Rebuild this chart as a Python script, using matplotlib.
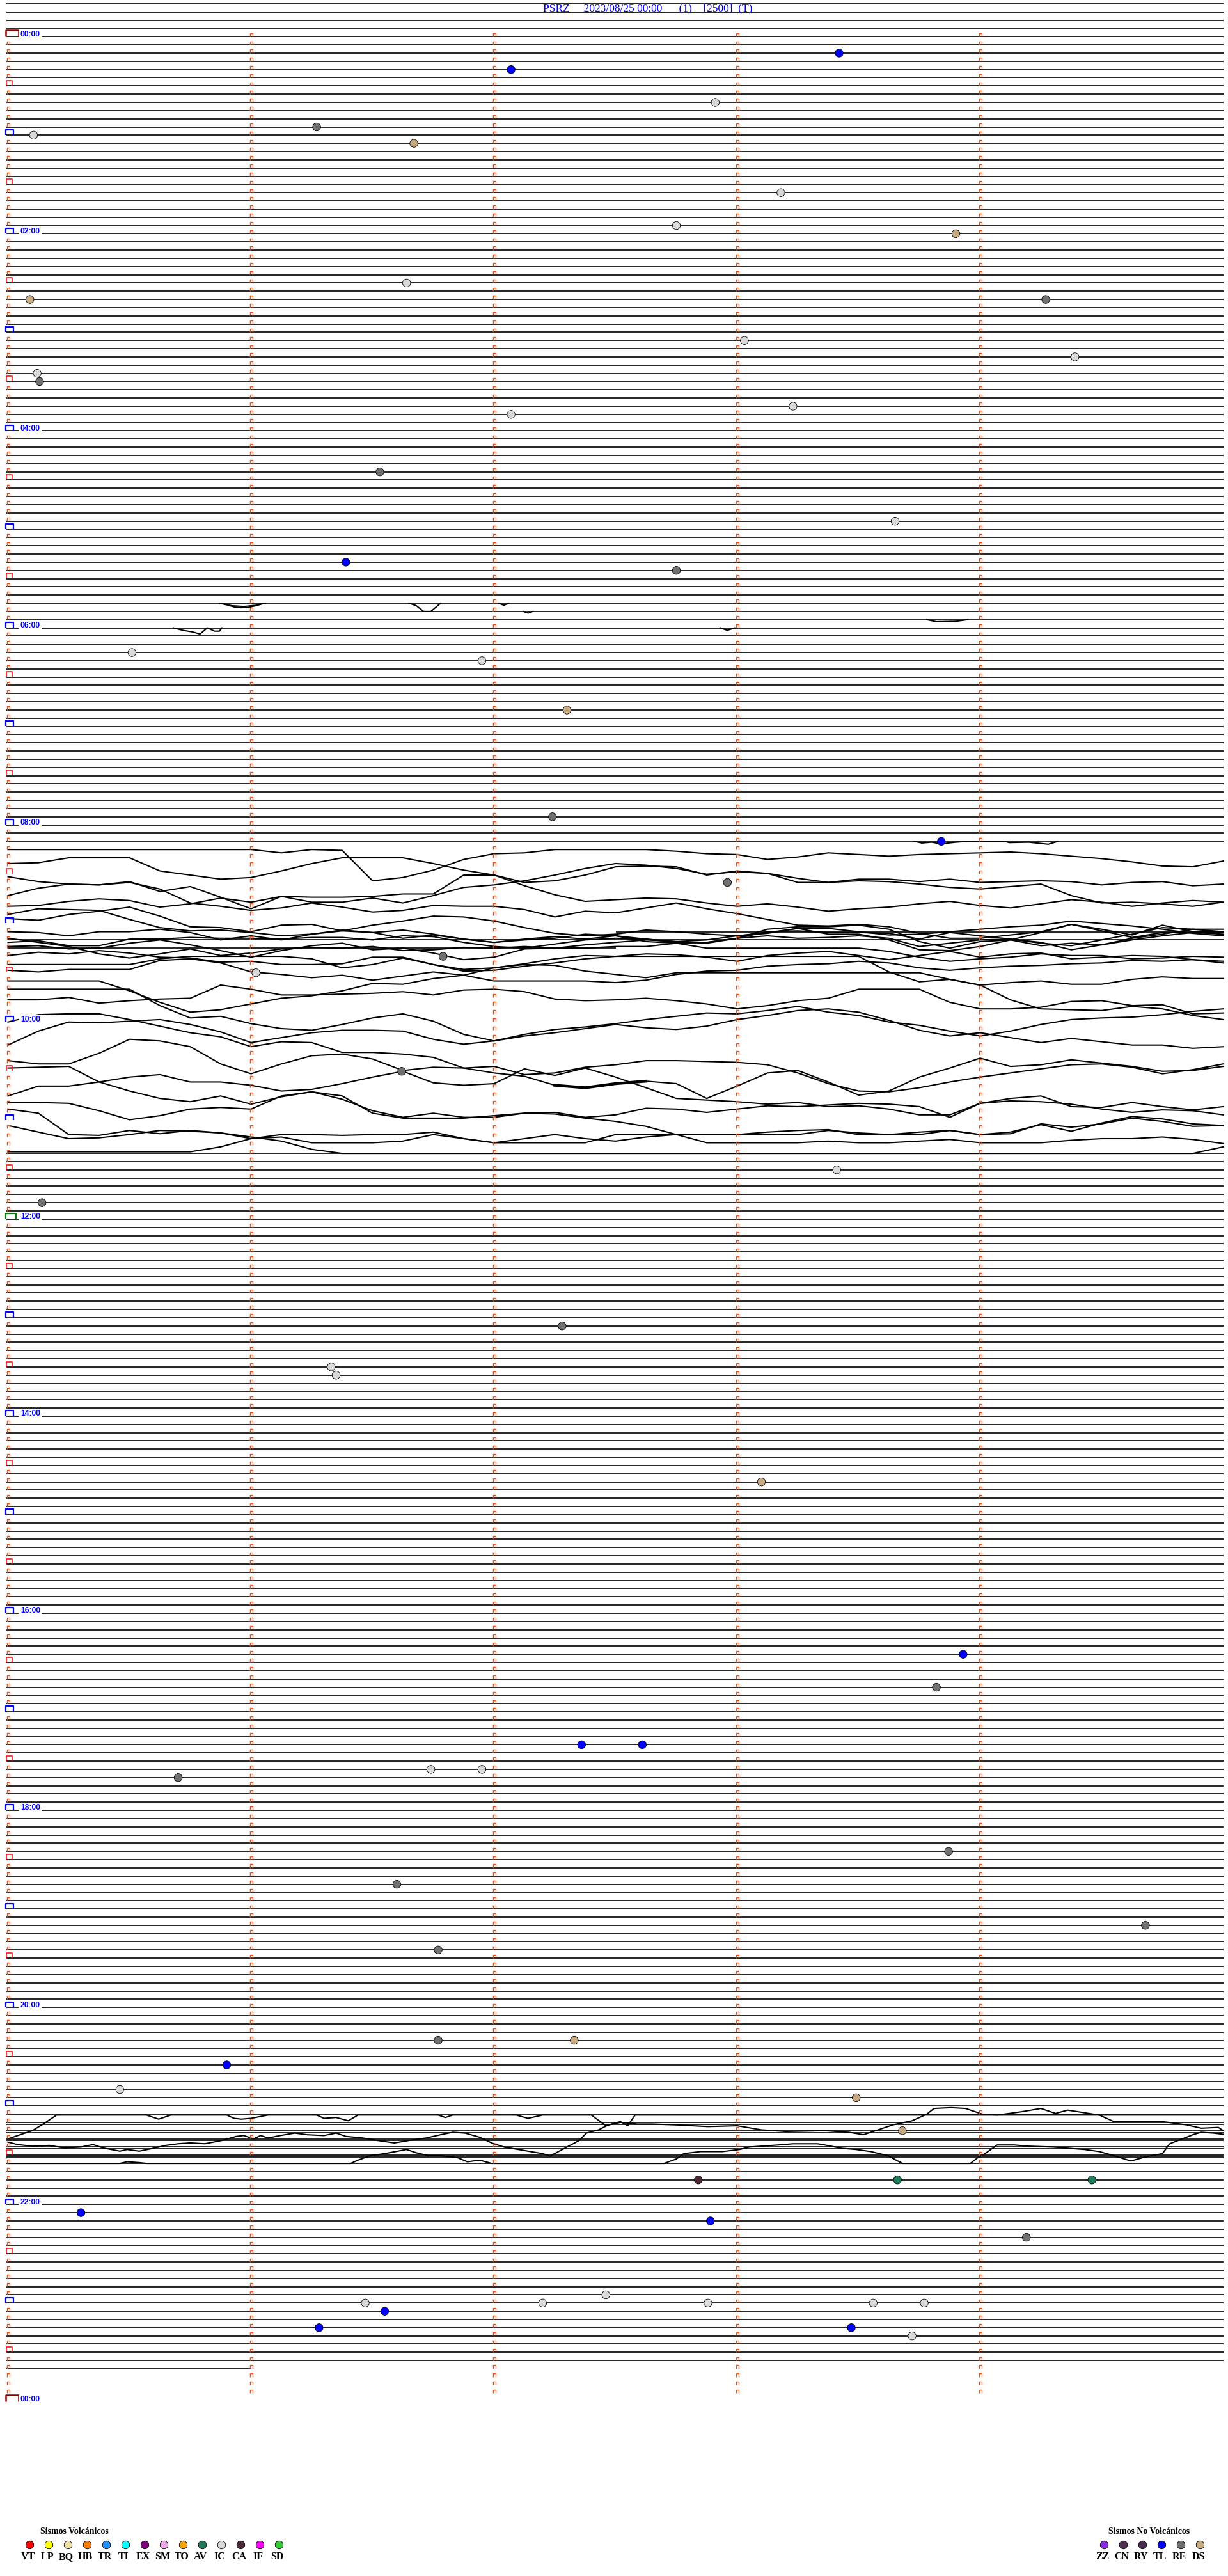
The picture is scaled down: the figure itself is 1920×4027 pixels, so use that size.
import numpy as np
import matplotlib.pyplot as plt
from matplotlib.collections import LineCollection

# ---------------- data ----------------
title = "PSRZ     2023/08/25 00:00      (1)    [2500]  (T)"
n_rows = 288          # 5-minute rows in the day
header_rows = 4       # empty rows drawn above 00:00
last_row = 284        # last row with signal
last_row_end = 1.0    # minutes of signal in the last row
hour_labels = ["00:00", "02:00", "04:00", "06:00", "08:00", "10:00", "12:00",
               "14:00", "16:00", "18:00", "20:00", "22:00", "00:00"]

# events: row (5 min each), minute inside the row, type
event_row = [2, 4, 8, 11, 12, 13, 19, 23, 24, 30, 32, 32, 37, 39, 41, 42, 45, 46, 53, 59,
             64, 65, 75, 76, 82, 95, 98, 103, 112, 114, 126, 138, 142, 157, 162, 163, 176,
             197, 201, 208, 208, 211, 211, 212, 221, 225, 230, 233, 244, 244, 247, 250,
             251, 255, 261, 261, 261, 265, 266, 268, 275, 276, 276, 276, 276, 276, 277,
             279, 279, 280]
event_min = [3.42, 2.07, 2.91, 1.27, 0.105, 1.67, 3.18, 2.75, 3.9, 1.64, 0.09, 4.27, 3.03,
             4.39, 0.12, 0.13, 3.23, 2.07, 1.53, 3.65, 1.39, 2.75, 0.51, 1.95, 2.3, 2.24,
             3.84, 2.96, 1.79, 1.02, 1.62, 3.41, 0.14, 2.28, 1.33, 1.35, 3.1, 3.93, 3.82,
             2.36, 2.61, 1.74, 1.95, 0.70, 3.87, 1.6, 4.68, 1.77, 1.77, 2.33, 0.9, 0.46,
             3.49, 3.68, 2.84, 3.66, 4.46, 0.3, 2.89, 4.19, 2.46, 1.47, 2.2, 2.88, 3.56,
             3.77, 1.55, 1.28, 3.47, 3.72]
event_type = ["TL", "TL", "IC", "RE", "IC", "DS", "IC", "IC", "DS", "IC", "DS", "RE", "IC",
              "IC", "IC", "RE", "IC", "IC", "RE", "IC", "TL", "RE", "IC", "IC", "DS", "RE",
              "TL", "RE", "RE", "IC", "RE", "IC", "RE", "RE", "IC", "IC", "DS", "TL", "RE",
              "TL", "TL", "IC", "IC", "RE", "RE", "RE", "RE", "RE", "RE", "DS", "TL", "IC",
              "DS", "DS", "CA", "AV", "AV", "TL", "TL", "RE", "IC", "IC", "IC", "IC", "IC",
              "IC", "TL", "TL", "TL", "IC"]

volc_codes = ["VT", "LP", "BQ", "HB", "TR", "TI", "EX", "SM", "TO", "AV", "IC", "CA", "IF", "SD"]
volc_colors = ["#ff0000", "#ffff00", "#f0e0a8", "#ff8000", "#2090ff", "#00ffff", "#800080",
               "#f0a8e8", "#ffa500", "#1f7a5c", "#d9d9d9", "#4a2838", "#ff00ff", "#33cc33"]
nonvolc_codes = ["ZZ", "CN", "RY", "TL", "RE", "DS"]
nonvolc_colors = ["#8a2be2", "#503050", "#4a2a50", "#0000ff", "#707070", "#c8aa82"]

# 08:00-11:30 burst: levels (in rows) read every 0.125 min
burst_t = np.linspace(0, 5, 41)
burst_levels = [
    [99, 99, 99, 99, 99, 99, 99, 99, 99, 99.4, 99, 99.1, 102.8, 102.4, 101.5, 100.2, 99.5, 99.4, 99, 99,
     99, 99, 99.2, 99.5, 99.6, 100.2, 99.9, 99.4, 99.6, 99.8, 99.6, 99.5, 99.4, 99.3, 99.5, 99.8, 100.1, 100.5, 101.0, 101.1, 100.4],
    [100.7, 100.6, 100, 100, 100, 101.6, 102.1, 102.6, 102.4, 101.6, 100.7, 100, 100, 100, 100.7, 101.5, 102.1, 103, 102.8, 102.1,
     101.1, 101, 101.1, 102.1, 101.6, 101.9, 103, 103, 102.6, 102.6, 102.9, 102.6, 103, 102.9, 102.8, 102.9, 103.3, 103, 102.9, 103.4, 103.2],
    [102.3, 102.9, 103.2, 103.3, 103, 103.8, 105.5, 105.9, 106.4, 106.1, 105.5, 106, 106.6, 106.4, 105.8, 105.9, 105.9, 106.3, 107.2, 106.5,
     106.7, 106.1, 105.5, 106.2, 106.8, 107.5, 108.2, 108.3, 108.1, 108.4, 109.2, 109.8, 109.8, 109.4, 109, 108.1, 108.9, 109.7, 109.1, 109.1, 109],
    [104.6, 103.7, 103.2, 103.3, 102.9, 104.1, 103.5, 104.8, 106.2, 104.7, 104.8, 104.8, 104.7, 104.4, 104.4, 102.1, 102.1, 103.4, 104.5, 105.3,
     105.1, 104.9, 105, 105.5, 105.9, 105.6, 106.0, 106.5, 106.2, 106.0, 105.6, 105.3, 105.8, 106.1, 105.6, 105.1, 105.4, 105.9, 105.5, 105.2, 105.4],
    [105.9, 105.8, 105.3, 105, 105.2, 106, 105.6, 104.9, 105.4, 104.7, 105.4, 105.4, 104.9, 105.5, 104.6, 103.6, 103.3, 102.8, 102.1, 101.3,
     100.7, 100.9, 101.3, 102, 101.7, 101.9, 102.5, 103, 102.8, 102.9, 103.2, 103.6, 103.8, 103.5, 103.2, 104.6, 105.5, 105.4, 105.6, 105.9, 105.4],
    [106.9, 106.2, 106.3, 106.4, 107.5, 108.5, 108.9, 108.8, 109.1, 109.5, 109.3, 108.9, 109.1, 109.8, 109.4, 109.9, 110.3, 110, 109.8, 109.3,
     109.5, 110.2, 110.4, 110.3, 109.8, 109.5, 109.8, 109.7, 109.5, 109.8, 110.8, 110.4, 110, 109.9, 110.3, 111.2, 110.6, 110, 109.5, 109.1, 109.3],
    [107.4, 107.6, 106.9, 106.5, 106, 107.1, 108.4, 108.5, 109, 108.2, 108.1, 108.9, 108.2, 107.7, 107.1, 107.2, 107.7, 108.5, 109.2, 109.5,
     109.3, 108.8, 109, 109.3, 109.5, 109.1, 108.6, 109.3, 109.3, 110, 111.2, 111.3, 110.8, 110, 109.1, 108.1, 108.7, 109.4, 108.2, 109, 109.1],
    [109, 109.1, 109.5, 109, 109, 108.7, 109.1, 110, 109.5, 110, 109.3, 108.8, 109.1, 108.8, 109.3, 109.9, 110.3, 109.9, 109.6, 109.9,
     109.5, 109.9, 110.2, 110, 109.5, 109.2, 108.6, 108.6, 109, 109.4, 109.3, 109, 108.7, 108.4, 108.2, 107.7, 108, 108.3, 108.7, 109.2, 109.5],
    [110.3, 110.1, 110.7, 110.7, 109.9, 109.9, 109.7, 109.8, 109.8, 109.9, 109.7, 109.7, 110, 109.5, 109.6, 110.3, 110.8, 111, 110.5, 110,
     109.8, 109.9, 110.3, 110.3, 109.8, 109, 108.9, 109.1, 109.1, 109.2, 109.9, 109.1, 109.5, 109.9, 110.4, 110.7, 110, 109.3, 108.5, 108.7, 109],
    [110.8, 110.7, 111.1, 111, 110.4, 110, 110.6, 111.3, 112.1, 111.3, 110.7, 110.4, 111.2, 111, 111.6, 112.4, 112.1, 111.1, 111, 110.6,
     110.3, 110, 110.2, 110.4, 109.8, 108.7, 108.4, 108.4, 108.2, 108.7, 110.2, 111, 110.2, 110, 110.7, 110.4, 110.6, 109.8, 109.3, 108.7, 108.7],
    [109.8, 110.3, 110.8, 111.7, 112.2, 111.7, 111.1, 111.9, 111.6, 111.1, 110.9, 111, 110.8, 111.3, 111.2, 110.9, 111, 110.8, 111, 111,
     110.8, 110.8, 110.4, 111, 111, 111, 111, 111, 111, 111.4, 112.1, 112.6, 112.3, 112.1, 111.7, 111.9, 111.9, 112.3, 112.2, 112, 112.1],
    [111.9, 111.5, 111.7, 111.3, 111.6, 112.1, 112.2, 112.7, 112.6, 113, 113, 112.9, 112.1, 112.1, 113, 113.6, 113.4, 112.9, 112.3, 111.9,
     112, 111.7, 111.8, 112.1, 112.6, 111.9, 111.6, 111.4, 111.9, 112.4, 111.9, 111.4, 112.1, 111.7, 111.6, 112.3, 112.1, 111.9, 112, 112.4, 112.6],
    [113, 113, 113, 113, 113, 112.3, 112, 112, 112, 112, 112.3, 113.4, 113, 112.2, 113, 113.8, 113.7, 113.2, 112.8, 112.3,
     112, 112, 112, 112, 112, 112, 112, 112, 112, 113.9, 115.1, 114.8, 115.5, 115.2, 115, 115.4, 115.4, 114.8, 114.5, 114.7, 114.7],
    [113.7, 113.9, 113.6, 113.6, 113.6, 112.5, 112.3, 112.8, 113.9, 114.2, 114.6, 114.3, 114.9, 114.4, 113.9, 114.3, 113.4, 113, 113.1, 113.8,
     114.2, 114.6, 114, 114, 114, 114, 114, 114, 114, 114, 114, 114.8, 115.5, 117.3, 118.4, 118.5, 118.6, 118.1, 118.4, 119.2, 119.7],
    [115, 115, 115, 115, 116.2, 117.6, 118.8, 118.5, 117.8, 117.1, 116.8, 116.2, 115.3, 115.4, 114.7, 114.3, 115, 115, 115, 115,
     115.2, 114.9, 114.2, 113.8, 113.7, 113.2, 113, 112.9, 112.6, 112.8, 113.4, 113.7, 113.4, 113.2, 113.1, 112.9, 112.8, 112.5, 112.6, 112.4, 112.8],
    [116, 116, 116, 116, 116, 118, 119.5, 119.3, 120.2, 120.8, 121, 120.3, 119.5, 119, 119.9, 121.5, 122.3, 121.5, 120.9, 120.6,
     120.2, 119.7, 119.3, 118.9, 119, 118.6, 118.1, 118.8, 119.2, 120, 120.4, 121.1, 121.7, 121.1, 120.3, 119.7, 119.5, 119.4, 119.1, 118.7, 118.4],
    [117.3, 117.3, 117, 117.7, 117.4, 117.2, 117.1, 115.5, 116, 116.7, 116.7, 116.6, 116.5, 116.3, 116.7, 116.1, 116, 116.3, 117.2, 117.4,
     117.3, 117.1, 117.4, 117.8, 118.4, 118, 117.4, 117.1, 116, 116, 116, 117.6, 118.4, 118.4, 118.2, 117.5, 117.4, 118, 117.9, 119, 118.9],
    [120, 119.1, 119, 119, 119.7, 120.5, 121.3, 121.8, 123, 122.4, 122.5, 123.7, 123.7, 123.9, 124.3, 125.6, 126.2, 126.6, 127.7, 128,
     127.5, 127.2, 127.5, 129.3, 127.8, 126.2, 125.9, 127.3, 128.9, 128.4, 126.7, 125.6, 124.4, 125.4, 125.2, 124.6, 125, 125.4, 126, 125.9, 125.4],
    [122.8, 121.1, 120, 120.1, 119.9, 119.7, 120.3, 121.2, 122.5, 121.9, 121.3, 121, 121, 121.1, 122.1, 122.7, 122.3, 121.7, 121.3, 120.8,
     120.3, 120.7, 120.9, 120.5, 119.7, 119.2, 118.6, 118.4, 118.8, 119.8, 121, 121.7, 121.3, 121.9, 122.5, 122, 122.4, 122.8, 122.8, 123.2, 123],
    [124.7, 125.1, 125.1, 123.8, 122.1, 122.3, 123, 125.1, 126.3, 125.1, 124.1, 123.9, 124.5, 125.9, 125.5, 125.6, 125.4, 126.4, 126.2, 125.5,
     125.2, 124.7, 124.7, 124.8, 124.9, 125.2, 126.2, 127.5, 128.4, 128.5, 128, 127.3, 126.7, 126.2, 125.7, 125.2, 125.1, 125.5, 126.3, 125.8, 125.1],
    [125.6, 125.5, 125.4, 127.3, 128.4, 129.3, 129.7, 129, 130, 129.1, 128.5, 129.4, 130.8, 131.6, 131.1, 131.6, 131.6, 131.1, 131.2, 131.7,
     132.1, 132.7, 133.7, 134.7, 134.7, 134.7, 134.7, 134.5, 134.7, 134.7, 134.5, 134.3, 134.7, 134.7, 134.7, 134.4, 134.2, 134.2, 134, 134.3, 134.8],
    [129, 127.8, 127.8, 127.3, 126.7, 126.4, 127.3, 127.3, 127.7, 128.4, 128.2, 127.5, 126.7, 126, 127.4, 127.7, 127.5, 125.7, 126.5, 125.6,
     126.7, 128, 129.3, 129.5, 129.7, 130, 129.8, 130.3, 130.2, 130.6, 131.3, 131.3, 129.9, 129.6, 129.7, 130, 130.6, 131, 130.7, 130.8, 131.3],
    [129.8, 129.8, 129.9, 130.8, 131.9, 131.4, 130.6, 130.4, 130.6, 129, 128.5, 129, 131.1, 131.7, 131.7, 131.7, 131.4, 131.1, 131, 131.6,
     131.3, 130.5, 130.6, 131, 130.6, 130.2, 130.3, 130.1, 129.9, 130, 130.3, 131.6, 129.9, 129.3, 129, 130.3, 130.4, 129.8, 130.3, 130.7, 130.3],
    [130.6, 131.1, 133.7, 133.8, 133.2, 133.6, 133.2, 133.5, 134, 134.5, 135.5, 136, 136, 136, 136, 136, 136, 136, 136, 136,
     136, 136, 136, 136, 136, 136, 136, 136, 136, 136, 136, 136, 136, 136, 136, 136, 136, 136, 136, 136, 135.2],
    [132.6, 133.4, 134.2, 134.1, 133.7, 133.2, 133.3, 133.5, 134.2, 134, 134.7, 134.7, 134.7, 134.5, 133.7, 134.2, 134.7, 134.2, 133.7, 134.2,
     134.5, 134, 133.7, 133.7, 133.7, 133.4, 133.2, 133.1, 133.7, 133.7, 133.4, 133.2, 133.7, 133.4, 132.5, 133.3, 132.3, 131.5, 131.8, 132.4, 132.6],
    [135.8, 135.8, 135.8, 135.8, 135.8, 135.8, 135.8, 135.2, 134.2, 133.7, 133.7, 133.8, 133.7, 133.7, 133.4, 134.2, 134.7, 134.7, 134.7, 134.7,
     133.7, 133.7, 133.7, 133.7, 133.7, 133.7, 133.7, 133.2, 133.5, 133.7, 133.7, 133.2, 133.7, 133.6, 132.4, 132.8, 132.4, 131.7, 132.1, 132.7, 132.6],
]
burst_blank_rows = range(99, 136)      # rows whose baseline is replaced by the traces
flat_pieces = [(109, 2.5, 5.0), (110, 0.0, 5.0), (111, 0.0, 2.5)]
noisy_trace = 17                       # trace with high-frequency noise
noisy_span = (2.2, 2.7)

# short traces elsewhere: (minutes, levels)
short_traces = [
    ([3.73, 3.76, 3.8, 3.84, 3.9, 3.95, 4.1, 4.12, 4.2, 4.28, 4.32],
     [98, 98.2, 98.1, 98.3, 98.1, 98, 98, 98.15, 98.1, 98.35, 98]),
    ([0.87, 0.9, 0.93, 0.96, 0.99, 1.02, 1.05, 1.06], [69, 69.2, 69.45, 69.55, 69.5, 69.3, 69.05, 69]),
    ([0.88, 0.92, 0.97, 1.02, 1.05], [69, 69.3, 69.4, 69.25, 69.0]),
    ([1.65, 1.68, 1.71, 1.74, 1.78], [69, 69.3, 70, 70, 69]),
    ([2.02, 2.04, 2.06], [69, 69.25, 69]),
    ([2.12, 2.14, 2.16], [70, 70.2, 70]),
    ([0.68, 0.72, 0.76, 0.79, 0.82, 0.85, 0.87, 0.88], [72, 72.3, 72.5, 72.75, 72, 72.4, 72.4, 72]),
    ([2.93, 2.96, 2.99], [72, 72.3, 72]),
    ([3.78, 3.82, 3.9, 3.95], [71, 71.25, 71.2, 71]),
]

# 21:00 burst
late_t1 = [0, 0.1, 0.15, 0.2, 0.57, 0.62, 0.67, 0.9, 0.93, 0.96, 1.0, 1.07, 1.27, 1.3, 1.35, 1.4,
           1.44, 1.77, 1.8, 1.83, 2.09, 2.14, 2.2, 2.4, 2.46, 2.52, 2.55, 2.58, 5.0]
late_l1 = [256.0, 255.0, 254.1, 253.1, 253.1, 253.6, 253.1, 253.1, 253.5, 253.6, 253.5, 253.1, 253.1,
           253.5, 253.4, 253.8, 253.1, 253.1, 253.4, 253.1, 253.1, 253.5, 253.1, 253.1, 254.4, 253.9,
           254.4, 253.1, 253.1]
late_t2 = [0, 0.04, 0.1, 0.17, 0.23, 0.3, 0.35, 0.39, 0.46, 0.49, 0.54, 0.59, 0.65, 0.7, 0.75, 0.81,
           0.88, 0.94, 0.97, 1.01, 1.04, 1.07, 1.12, 1.18, 1.23, 1.3, 1.35, 1.39, 1.46, 1.52, 1.59,
           1.65, 1.72, 1.78, 1.83, 1.88, 1.94, 1.99, 2.04, 2.1, 2.2, 2.23, 2.3, 2.35, 2.38, 2.43,
           2.47, 2.52, 2.59, 2.65, 2.75, 2.88, 3.0, 3.1, 3.2, 3.36, 3.46, 3.52, 3.59, 3.64, 3.72,
           3.78, 3.81, 3.88, 3.94, 4.01, 4.07, 4.17, 4.25, 4.31, 4.36, 4.49, 4.55, 4.62, 4.75, 4.85,
           4.91, 4.98, 5.0]
late_l2 = [256.4, 256.7, 256.9, 256.8, 257.1, 257.0, 256.7, 257.1, 257.5, 257.3, 257.5, 257.2, 256.8,
           256.6, 256.5, 256.6, 256.2, 255.7, 255.6, 256.0, 255.6, 255.9, 255.6, 255.3, 255.5, 255.6,
           255.3, 255.7, 255.9, 256.2, 256.5, 256.2, 255.9, 255.5, 255.2, 255.3, 255.8, 256.5, 257.0,
           257.3, 257.8, 258.1, 257.0, 256.2, 255.3, 254.9, 254.3, 254.0, 254.2, 254.2, 254.3, 254.5,
           254.4, 254.9, 255.1, 255.0, 255.2, 255.5, 254.8, 254.3, 253.8, 253.0, 252.3, 252.2, 252.3,
           253.0, 253.1, 252.7, 252.3, 252.9, 252.5, 253.1, 253.9, 253.9, 253.9, 254.3, 254.7, 254.6, 255.0]
late_t3 = [0, 0.46, 0.49, 0.54, 0.57, 1.41, 1.44, 1.49, 1.55, 1.64, 1.68, 1.73, 1.78, 1.85, 1.89,
           1.94, 1.99, 2.7, 2.75, 2.78, 2.85, 2.94, 3.01, 3.05, 3.17, 3.23, 3.33, 3.36, 3.43, 3.49,
           3.55, 3.62, 3.68, 3.96, 3.99, 4.02, 4.07, 4.14, 4.2, 4.3, 4.43, 4.49, 4.55, 4.62, 4.68,
           4.75, 4.78, 4.81, 4.88, 4.91, 4.96, 5.0]
late_l3 = [259, 259, 258.8, 258.9, 259, 259, 258.6, 258.05, 257.8, 257.3, 257.7, 258.05, 258.05,
           258.3, 258.8, 258.6, 259, 259, 258.45, 257.8, 257.55, 257.55, 257.3, 257.0, 256.75,
           256.6, 256.6, 256.75, 257.15, 257.3, 257.55, 258.05, 259, 259, 258.3, 257.8, 256.75,
           256.75, 256.9, 257.0, 257.3, 257.55, 258.05, 258.7, 258.2, 257.8, 256.6, 256.25,
           255.45, 255.2, 255.3, 255.45]
late_offset_rows = [254, 255, 256, 257, 258]

# ---------------- layout ----------------
W, H = 1920, 4027
X0, PXM = 12.5, 380.0        # pixel of minute 0, pixels per minute
Y0, PXR = 57.3, 12.837       # pixel of row 0, pixels per row
px = 1 / PXM                 # one pixel in minutes
py = 1 / PXR                 # one pixel in rows

fig = plt.figure(figsize=(W / 100, H / 100), dpi=100)
ax = fig.add_axes([0, 0, 1, 1])
ax.set_xlim(-X0 * px, (W - X0) * px)
ax.set_ylim((H - Y0) * py, -Y0 * py)
ax.axis("off")

lw_line = 1.2
lw_trace = 1.5
x_start = -2.5 * px

# baselines
segs = []
for r in range(-header_rows, last_row + 1):
    if r in burst_blank_rows:
        continue
    x_end = last_row_end if r == last_row else 5.0
    segs.append([(x_start, r), (x_end, r)])
for r, a, b in flat_pieces:
    segs.append([(max(a, x_start), r), (b, r)])
for r in late_offset_rows:
    segs.append([(x_start, r + 0.22), (5.0, r + 0.22)])
ax.add_collection(LineCollection(segs, colors="black", linewidths=lw_line, zorder=1))

# traces
for lv in burst_levels:
    ax.plot(burst_t, lv, color="black", lw=lw_trace, zorder=2)
sel = (burst_t >= noisy_span[0]) & (burst_t <= noisy_span[1])
ax.plot(burst_t[sel], np.array(burst_levels[noisy_trace])[sel], color="black", lw=3.2, zorder=2)
for tt, lv in short_traces:
    ax.plot(tt, lv, color="black", lw=lw_trace, zorder=2)
for tt, lv in [(late_t1, late_l1), (late_t2, late_l2), (late_t3, late_l3)]:
    ax.plot(tt, lv, color="black", lw=lw_trace, zorder=2)

# minute ticks (small open boxes above each row)
def box(xc, r, half_w, h):
    return [(xc - half_w, r - 0.3 * py), (xc - half_w, r - h), (xc + half_w, r - h),
            (xc + half_w, r - 0.3 * py)]

ticks = []
for r in range(n_rows):
    for j in range(5):
        if j == 0 and r % 6 == 0:
            continue
        ticks.append(box(j + 0.5 * px, r, 2.4 * px, 5.6 * py))
ax.add_collection(LineCollection(ticks, colors="#ff4800", linewidths=1.0, zorder=3))

# half-hour and hour marks
half = [box(2.0 * px, r, 4.2 * px, 8.3 * py) for r in range(6, n_rows, 12)]
ax.add_collection(LineCollection(half, colors="#ff0000", linewidths=1.1, zorder=3))
for r in range(0, n_rows + 1, 12):
    if r in (0, n_rows):
        color, hw, h, lw = "#8b0000", 10.0, 10.6, 1.8
    elif r == 144:
        color, hw, h, lw = "#008000", 8.0, 9.0, 1.6
    else:
        color, hw, h, lw = "#0000ff", 5.7, 8.6, 1.6
    xs = -3.2 * px + hw * px
    ax.add_collection(LineCollection([box(xs, r, hw * px, h * py)], colors=color,
                                     linewidths=lw, zorder=3))

for i, lab in enumerate(hour_labels):
    r = i * 24
    ax.text(19.5 * px, r - 0.6 * py, lab, color="#0000ff", fontsize=8.7,
            family="Liberation Sans", weight="bold", ha="left", va="baseline", zorder=4,
            bbox=dict(fc="white", ec="none", pad=1.2))

# title
ax.text((1013 - X0) * px, (13.5 - Y0) * py, title, color="#0000ff", fontsize=12.5,
        family="Liberation Serif", ha="center", va="center", zorder=4)

# events
all_colors = dict(zip(volc_codes, volc_colors))
all_colors.update(dict(zip(nonvolc_codes, nonvolc_colors)))
ax.scatter(event_min, event_row, s=80, c=[all_colors[k] for k in event_type],
           edgecolors="black", linewidths=0.6, zorder=5)

# legends
def px_to_data(x, y):
    return (x - X0) * px, (y - Y0) * py

def legend(codes, colors, x_first, x_title, heading):
    xt, yt = px_to_data(x_title, 3957)
    ax.text(xt, yt, heading, fontsize=10, family="Liberation Serif", weight="bold",
            ha="left", va="center")
    for i, (code, col) in enumerate(zip(codes, colors)):
        xc, yc = px_to_data(x_first + 30 * i, 3977.7)
        ax.scatter([xc], [yc], s=80, c=[col], edgecolors="black", linewidths=0.6, zorder=5)
        xl, yl = px_to_data(x_first + 30 * i - 2, 3997)
        ax.text(xl, yl, code, fontsize=11.5, family="Liberation Serif", weight="bold",
                ha="center", va="center")

legend(volc_codes, volc_colors, 45.7, 63, "Sismos Volcánicos")
legend(nonvolc_codes, nonvolc_colors, 1725.7, 1733, "Sismos No Volcánicos")

fig.savefig("out.png", dpi=100, facecolor="white")
